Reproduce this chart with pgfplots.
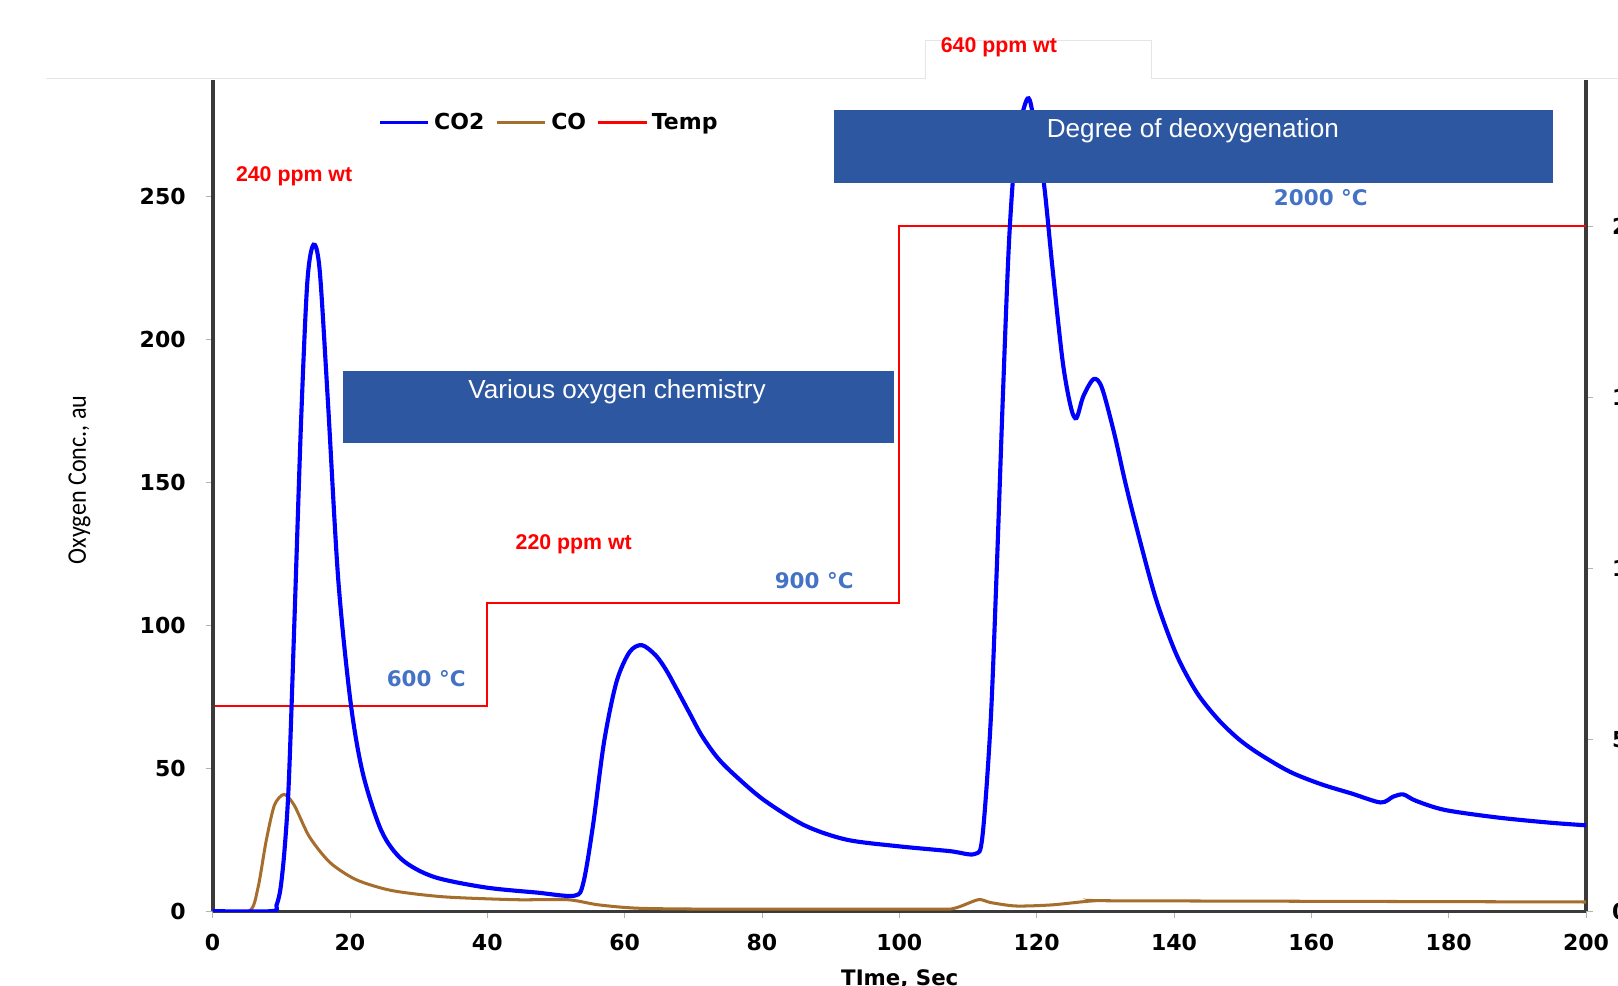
\documentclass[border=0pt]{standalone}
\usepackage{fontspec}
\usepackage{pgfplots}
\pgfplotsset{compat=1.18}
\setmainfont{Liberation Sans}
\newfontfamily\vb{DejaVu Sans}
\newfontfamily\calfont[FakeStretch=0.9]{Carlito}
\definecolor{co2}{HTML}{0000FF}
\definecolor{cobrown}{HTML}{A66E2C}
\definecolor{boxblue}{HTML}{2D57A0}
\definecolor{lblblue}{HTML}{4472C4}
\definecolor{axgray}{HTML}{3A3A3A}

\pgfplotstableread{
t v
0 0
8.6 0
9.3 2
9.9 8
10.5 22
11.1 45
11.9 100
12.9 172
13.8 220
14.7 233
15.6 224
16.8 178
18.3 116
20.1 73
21.9 48
24.6 28
27.6 18
32.2 12
39.7 8.3
47.2 6.5
52.7 5.4
54 10
55.4 30
57 59
58.8 80
60.7 90.5
62.5 93
64.5 89.5
66 84.5
67.5 78
69.4 69.5
71.2 61.5
73.4 54
75.7 48.3
80.2 39
86.2 30
92.3 25
99.8 22.7
107.3 21
111 20
112.1 26
113.3 66
114.2 120
115.1 181
116 235
117 268
118.3 282
119 283.5
119.9 272
121.1 253.6
122.3 225
123.8 192
125 176
125.8 172.4
126.8 180
128.3 186
129.5 183
131.3 167
132.8 151
134.3 136.4
137.3 109.7
140.3 90
143.3 76.5
146.4 67.1
149.4 60.2
152.4 55
156.9 48.7
161.4 44.4
165.9 41.1
170.1 38
171.9 40
173.4 40.8
175.2 38.6
179.4 35.4
186.9 32.8
194.4 31
200 30
}\cotwo

\pgfplotstableread{
t v
0 0
5.3 0
6.6 8
7.8 24.5
9 37
10.4 40.8
11.9 37
14.1 26
17.1 17
20.9 11
26.1 7.2
33.7 5
44.2 4
51.7 4
56.2 2.2
62.2 1
74.2 0.7
104.3 0.7
108 1
111.5 4
113.3 3
117 1.8
122.3 2.2
128.3 3.6
134.3 3.6
200 3.2
}\coone

\begin{document}
\begin{tikzpicture}[x=0.75pt,y=0.75pt]
% temperature, right axis
\begin{axis}[
  at={(154.5pt,54pt)}, anchor=south west, scale only axis,
  width=998.25pt, height=603.75pt,
  xmin=0, xmax=200, ymin=0, ymax=2425,
  axis x line=none, axis y line*=right,
  y axis line style={-, axgray, line width=3pt},
  ytick={0,500,1000,1500,2000},
  tick align=outside, major tick length=5pt,
  tick style={gray!60, line width=0.6pt},
  yticklabel style={font=\vb\bfseries\fontsize{16}{16}\selectfont, xshift=10.5pt},
  /pgf/number format/assume math mode=true,
  /pgf/number format/1000 sep={},
]
\addplot[red, line width=1.5pt] coordinates {(0,600)(40,600)(40,900)(100,900)(100,2000)(200,2000)};
\end{axis}
% oxygen, left axis
\begin{axis}[
  at={(154.5pt,54pt)}, anchor=south west, scale only axis,
  width=998.25pt, height=603.75pt,
  xmin=0, xmax=200, ymin=0, ymax=290.4,
  axis x line*=bottom, axis y line*=left,
  x axis line style={-, axgray, line width=2.2pt},
  y axis line style={-, axgray, line width=3pt},
  xtick={0,20,...,200}, ytick={0,50,...,250},
  tick align=outside, major tick length=5pt,
  tick style={gray!60, line width=0.6pt},
  ticklabel style={font=\vb\bfseries\fontsize{16}{16}\selectfont},
  yticklabel style={xshift=-11pt},
  xticklabel style={yshift=-8.5pt},
  /pgf/number format/assume math mode=true,
  legend style={at={(rel axis cs:0.1205,0.9496)}, anchor=west, draw=none, fill=none,
    font=\vb\bfseries\fontsize{16}{16}\selectfont, inner sep=0pt,
    /tikz/every even column/.append style={column sep=6pt},
    /tikz/every odd column/.append style={column sep=1pt}},
  legend columns=-1,
  legend image code/.code={\draw[#1] (0pt,0pt) -- (35pt,0pt);},
]
\addlegendimage{co2, line width=2.6pt}
\addlegendentry{CO2}
\addlegendimage{cobrown, line width=2.6pt}
\addlegendentry{CO}
\addlegendimage{red, line width=1.8pt}
\addlegendentry{Temp}
\addplot[cobrown, line width=2.2pt, smooth, tension=0.45, forget plot] table[x=t,y=v] {\coone};
\addplot[co2, line width=3pt, smooth, tension=0.5, forget plot] table[x=t,y=v] {\cotwo};
\end{axis}

% frame line at the top
\draw[gray!20, line width=0.8pt] (45,879) -- (897,879) -- (897,916) -- (1116,916) -- (1116,879) -- (1568,879);

% boxes
\fill[boxblue] (332,526) rectangle (866,595);
\node[white, font=\fontsize{19}{19}\selectfont] at (598,575) {Various oxygen chemistry};
\fill[boxblue] (808,778) rectangle (1505,848);
\node[white, font=\fontsize{19}{19}\selectfont] at (1156,828) {Degree of deoxygenation};

% annotations
\node[red, font=\bfseries\fontsize{15.5}{15.5}\selectfont] at (285,784) {240 ppm wt};
\node[red, font=\bfseries\fontsize{15.5}{15.5}\selectfont] at (556,428) {220 ppm wt};
\node[red, font=\bfseries\fontsize{15.5}{15.5}\selectfont] at (968,909) {640 ppm wt};
\node[lblblue, font=\vb\bfseries\fontsize{15.6}{15.6}\selectfont] at (413,297) {600 °C};
\node[lblblue, font=\vb\bfseries\fontsize{15.6}{15.6}\selectfont] at (789,392) {900 °C};
\node[lblblue, font=\vb\bfseries\fontsize{15.6}{15.6}\selectfont] at (1280,763) {2000 °C};

% axis titles
\node[rotate=90, font=\calfont\fontsize{19.5}{19.5}\selectfont] at (77,490) {Oxygen Conc., au};
\node[font=\vb\bfseries\fontsize{15.5}{15.5}\selectfont] at (872,6) {TIme, Sec};

\pgfresetboundingbox
\path[use as bounding box] (0,0) rectangle (1568,955);
\end{tikzpicture}
\end{document}
